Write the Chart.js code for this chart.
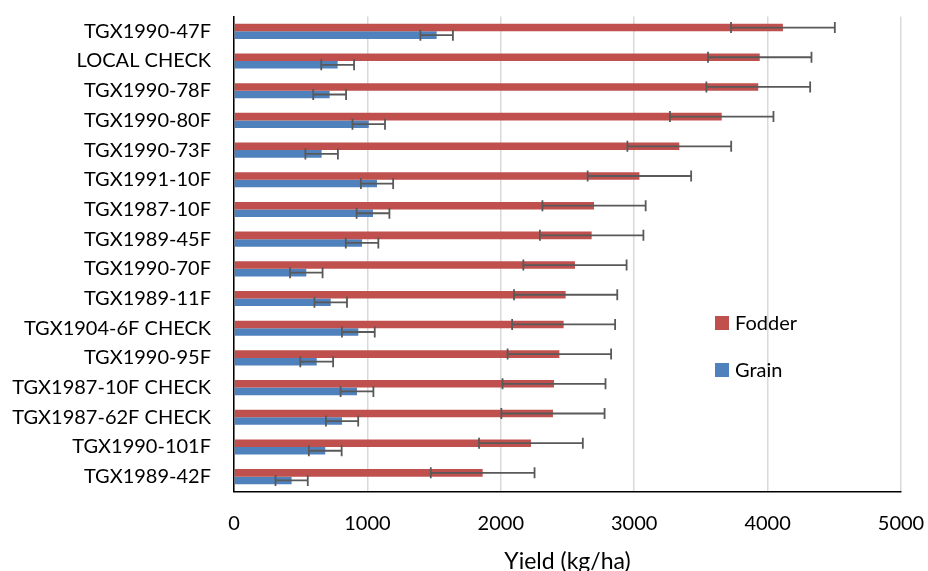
<!DOCTYPE html>
<html>
<head>
<meta charset="utf-8">
<script src="https://cdn.jsdelivr.net/npm/chart.js@4"></script>
<style>
html,body{margin:0;padding:0;background:#fff;}
#wrap{position:relative;width:928px;height:571px;}
#legend{position:absolute;left:715px;top:309px;font-family:Lato,"Open Sans",sans-serif;font-size:20px;color:#000;}
.li{position:absolute;left:0;white-space:nowrap;height:22px;line-height:22px;}
.sw{display:inline-block;width:14px;height:14px;vertical-align:middle;margin-right:6px;position:relative;top:-2px;}
</style>
</head>
<body>
<div id="wrap">
<canvas id="c" width="928" height="571"></canvas>
<div id="legend">
<div class="li" style="top:2px"><span class="sw" style="background:#C0504D"></span>Fodder</div>
<div class="li" style="top:49px"><span class="sw" style="background:#4F81BD"></span>Grain</div>
</div>
</div>
<script>
const categories = ["TGX1990-47F","LOCAL CHECK","TGX1990-78F","TGX1990-80F","TGX1990-73F","TGX1991-10F","TGX1987-10F","TGX1989-45F","TGX1990-70F","TGX1989-11F","TGX1904-6F CHECK","TGX1990-95F","TGX1987-10F CHECK","TGX1987-62F CHECK","TGX1990-101F","TGX1989-42F"];
const fodder = [4115,3941,3930,3656,3338,3039,2699,2681,2556,2486,2471,2439,2399,2391,2226,1864];
const fodderErr = [389,388,389,388,389,388,387,388,387,387,386,388,386,387,389,389];
const grain = [1519,777,717,1010,657,1072,1042,960,542,725,932,620,922,810,684,432];
const grainErr = [122,123,123,122,122,121,123,122,122,122,123,123,123,121,123,121];
const xTicks = [0,1000,2000,3000,4000,5000];

const errorBars = {
  id:'errorBars',
  afterDatasetsDraw(chart){
    const ctx = chart.ctx, xs = chart.scales.x;
    const errs = [fodderErr, grainErr];
    chart.data.datasets.forEach((ds,di)=>{
      const meta = chart.getDatasetMeta(di);
      meta.data.forEach((el,i)=>{
        const v = ds.data[i], e = errs[di][i];
        const x1 = xs.getPixelForValue(v-e), x2 = xs.getPixelForValue(v+e), y = el.y;
        ctx.save();
        ctx.strokeStyle = '#595959';
        ctx.lineWidth = 1.8;
        ctx.beginPath();
        ctx.moveTo(x1,y); ctx.lineTo(x2,y);
        ctx.moveTo(x1,y-5.5); ctx.lineTo(x1,y+5.5);
        ctx.moveTo(x2,y-5.5); ctx.lineTo(x2,y+5.5);
        ctx.stroke();
        ctx.restore();
      });
    });
  }
};

new Chart(document.getElementById('c'),{
  type:'bar',
  data:{
    labels:categories,
    datasets:[
      {label:'Fodder',data:fodder,backgroundColor:'#C0504D'},
      {label:'Grain',data:grain,backgroundColor:'#4F81BD'}
    ]
  },
  options:{
    indexAxis:'y',
    responsive:false,
    animation:false,
    layout:{padding:{top:16.5,right:27,left:0,bottom:0}},
    datasets:{bar:{barPercentage:1,categoryPercentage:0.51}},
    plugins:{legend:{display:false},tooltip:{enabled:false}},
    scales:{
      x:{
        min:0,max:5000,
        afterBuildTicks(s){ s.ticks = xTicks.map(v=>({value:v})); },
        afterFit(s){ s.height = 79.5; s.paddingRight = 0; s.paddingLeft = 0; },
        grid:{color:'#d9d9d9',lineWidth:1.5,drawTicks:false},
        border:{display:true,color:'#000',width:1.5},
        ticks:{padding:20,color:'#000',font:{family:'Lato',size:20},callback:v=>String(v)},
        title:{display:true,text:'Yield (kg/ha)',color:'#000',font:{family:'Lato',size:23},padding:{top:0,bottom:-4}}
      },
      y:{
        afterFit(s){ s.width = 234; s.paddingTop = 0; s.paddingBottom = 0; },
        grid:{display:false,drawTicks:false},
        border:{display:true,color:'#000',width:1.5},
        ticks:{padding:23,color:'#000',font:{family:'Lato',size:20},autoSkip:false}
      }
    }
  },
  plugins:[errorBars]
});
</script>
</body>
</html>
